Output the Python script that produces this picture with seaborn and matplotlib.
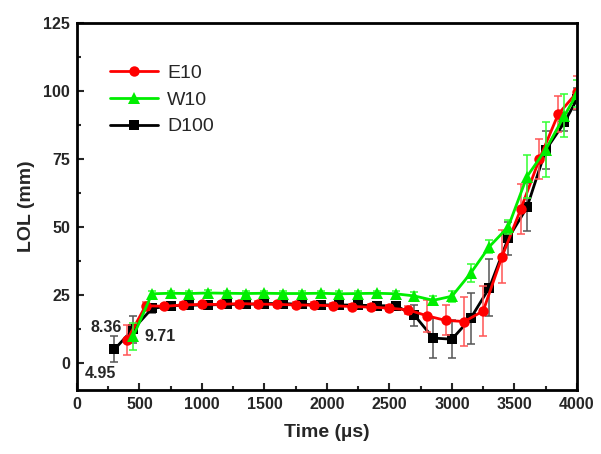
import numpy as np
import pandas as pd
import seaborn as sns
import matplotlib.pyplot as plt
from matplotlib.ticker import MultipleLocator

# E10 series
e10_time = [400, 550, 700, 850, 1000, 1150, 1300, 1450, 1600, 1750, 1900, 2050, 2200,
            2350, 2500, 2650, 2800, 2950, 3100, 3250, 3400, 3550, 3700, 3850, 4000]
e10_lol = [8.36, 21.0, 20.8, 21.3, 21.5, 21.5, 21.8, 21.6, 21.5, 21.3, 21.2, 21.0, 20.7,
           20.5, 20.1, 19.5, 17.3, 15.6, 15.2, 19.1, 39.0, 56.5, 75.0, 91.5, 99.5]
e10_err = [5.5, 1.5, 1.0, 1.0, 1.0, 1.0, 1.0, 1.0, 1.0, 1.0, 1.0, 1.0, 1.0,
           1.0, 1.2, 1.5, 6.0, 5.5, 9.0, 9.3, 9.8, 9.2, 7.4, 6.6, 6.0]

# W10 series
w10_time = [450, 600, 750, 900, 1050, 1200, 1350, 1500, 1650, 1800, 1950, 2100, 2250,
            2400, 2550, 2700, 2850, 3000, 3150, 3300, 3450, 3600, 3750, 3900, 4000]
w10_lol = [9.71, 25.4, 25.6, 25.5, 25.7, 25.6, 25.5, 25.6, 25.5, 25.5, 25.6, 25.4, 25.5,
           25.6, 25.4, 24.6, 23.0, 24.5, 33.0, 42.8, 50.0, 68.5, 78.5, 91.0, 99.0]
w10_err = [5.0, 1.0, 1.0, 1.0, 1.0, 1.0, 1.0, 1.0, 1.0, 1.0, 1.0, 1.0, 1.0,
           1.0, 1.0, 1.5, 1.5, 2.0, 3.3, 2.5, 2.5, 8.0, 10.0, 8.0, 5.0]

# D100 series
d100_time = [300, 450, 600, 750, 900, 1050, 1200, 1350, 1500, 1650, 1800, 1950, 2100,
             2250, 2400, 2550, 2700, 2850, 3000, 3150, 3300, 3450, 3600, 3750, 3900, 4000]
d100_lol = [4.95, 12.4, 20.0, 21.0, 21.2, 21.3, 21.5, 21.5, 21.8, 21.8, 21.5, 21.3, 21.3,
            21.2, 21.0, 21.0, 17.5, 9.1, 8.7, 16.4, 27.7, 45.8, 57.2, 78.3, 88.5, 97.0]
d100_err = [4.8, 5.0, 1.5, 1.5, 1.5, 1.5, 1.5, 1.5, 1.5, 1.5, 1.5, 1.5, 1.5,
            1.5, 1.5, 1.5, 3.8, 7.3, 7.0, 9.4, 10.6, 6.0, 8.8, 7.0, 3.3, 4.0]

sns.set_theme(style="ticks")
plt.rcParams['font.family'] = ['Liberation Sans', 'DejaVu Sans']

fig = plt.figure(figsize=(6.01, 4.54), dpi=100)
ax = fig.add_axes([0.128, 0.141, 0.832, 0.808])

series = [
    ("D100", d100_time, d100_lol, d100_err, "black", "#555555", "s", 6.5),
    ("E10", e10_time, e10_lol, e10_err, "#ff0000", "#ff5555", "o", 7.5),
    ("W10", w10_time, w10_lol, w10_err, "#00ee00", "#33ff33", "^", 8.5),
]

for name, t, y, e, col, ecol, mk, ms in series:
    ax.errorbar(t, y, yerr=e, fmt="none", ecolor=ecol, elinewidth=1.3,
                capsize=3, capthick=1.3, alpha=0.85)
    df = pd.DataFrame({"time": t, "lol": y})
    sns.lineplot(data=df, x="time", y="lol", ax=ax, color=col, marker=mk,
                 markersize=ms, markeredgewidth=0, linewidth=2, label=name)

h, l = ax.get_legend_handles_labels()
order = [l.index("E10"), l.index("W10"), l.index("D100")]
ax.legend([h[i] for i in order], [l[i] for i in order], loc="upper left",
          bbox_to_anchor=(0.05, 0.91), frameon=False, fontsize=14,
          handlelength=2.5, handletextpad=0.45, labelspacing=0.48, borderaxespad=0)

# value labels at the start
ax.text(232, 12.9, "8.36", ha="center", va="center", fontsize=11.5, fontweight="bold")
ax.text(664, 9.6, "9.71", ha="center", va="center", fontsize=11.5, fontweight="bold")
ax.text(192, -4.0, "4.95", ha="center", va="center", fontsize=11.5, fontweight="bold")

ax.set_xlim(0, 4000)
ax.set_ylim(-10, 125)
ax.xaxis.set_major_locator(MultipleLocator(500))
ax.xaxis.set_minor_locator(MultipleLocator(250))
ax.yaxis.set_major_locator(MultipleLocator(25))
ax.yaxis.set_minor_locator(MultipleLocator(12.5))
ax.tick_params(which="both", direction="in", width=1.5, top=False, right=False)
ax.tick_params(which="major", length=5, labelsize=11.5, pad=5)
ax.tick_params(which="minor", length=3)
for lab in ax.get_xticklabels() + ax.get_yticklabels():
    lab.set_fontweight("bold")

for sp in ax.spines.values():
    sp.set_visible(True)
    sp.set_linewidth(2)
    sp.set_color("black")

ax.set_xlabel("Time (µs)", fontsize=14, fontweight="bold", labelpad=9)
ax.set_ylabel("LOL (mm)", fontsize=14, fontweight="bold", labelpad=6)

fig.savefig("out.png", dpi=100)
